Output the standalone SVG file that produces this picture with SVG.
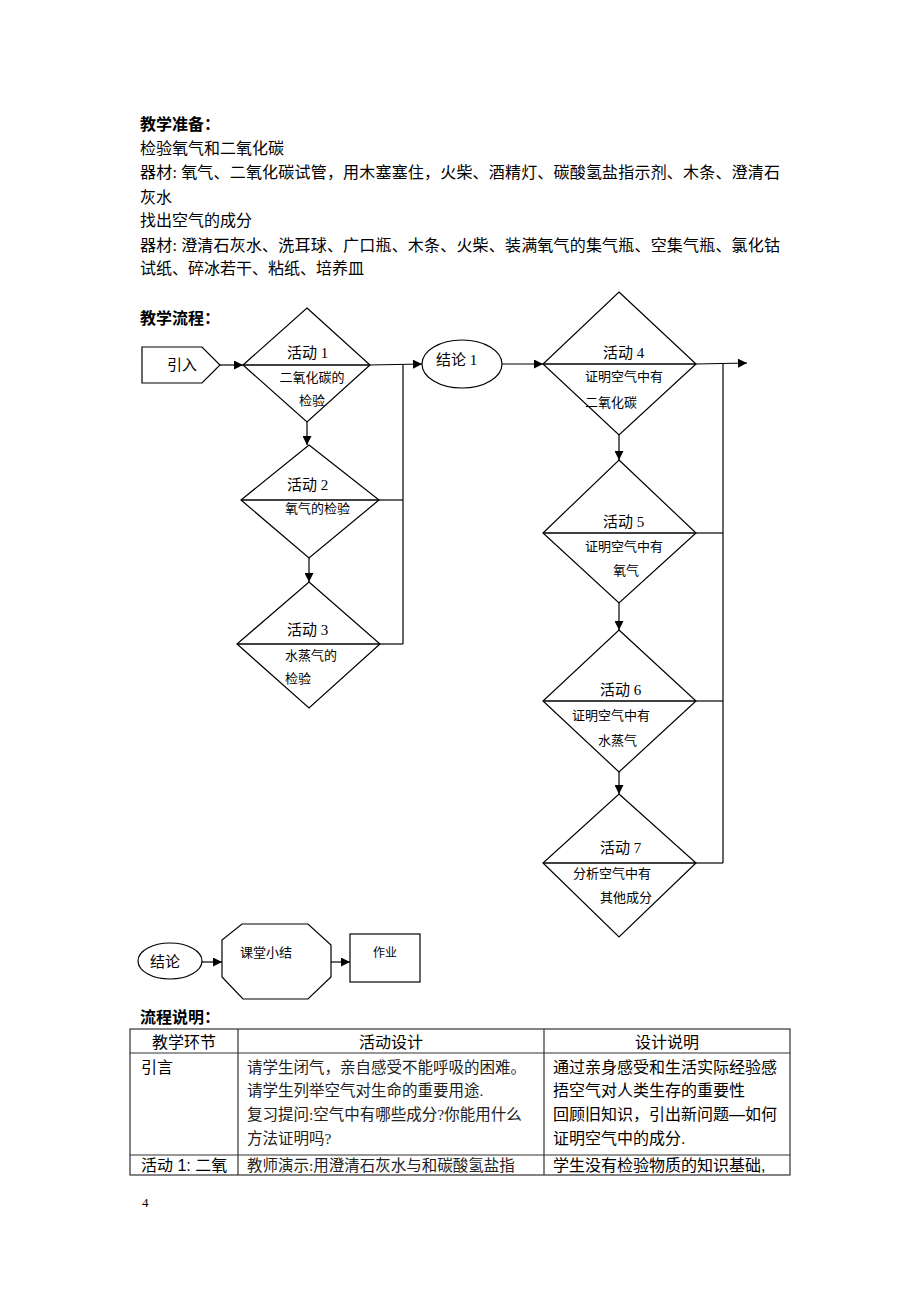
<svg xmlns="http://www.w3.org/2000/svg" width="920" height="1302" viewBox="0 0 920 1302">
<style>
text{font-family:"Liberation Serif","Noto Sans CJK SC",serif;fill:#000}
.h{font-family:"Noto Sans CJK SC",sans-serif;font-size:16px;font-weight:bold}
.b{font-family:"Liberation Serif","Noto Sans CJK SC",serif;font-size:16px}
.t{font-size:15px}
.s{font-size:13px}
.sh{fill:#fff;stroke:#000;stroke-width:1.2}
.dv{stroke:#000;stroke-width:1.4;fill:none}
.c{stroke:#000;stroke-width:1.2;fill:none}
.ca{stroke:#000;stroke-width:1.2;fill:none;marker-end:url(#ah)}
.tb{stroke:#333;stroke-width:1.2;fill:none}
.th{font-family:"Noto Sans CJK SC",sans-serif;font-size:16px}
.tc{font-family:"Liberation Serif","Noto Sans CJK SC",serif;font-size:15.5px;fill:#222}
.ts{font-family:"Liberation Sans","Noto Sans CJK SC",sans-serif;font-size:16px}
</style>
<defs>
<marker id="ah" viewBox="0 0 10 10" refX="10" refY="5" markerUnits="userSpaceOnUse" markerWidth="10" markerHeight="9" orient="auto">
<path d="M0,0 L10,5 L0,10 z" fill="#000"/>
</marker>
</defs>

<g id="intro-text">
<text class="h" x="140" y="130">教学准备：</text>
<text class="b" x="140" y="154">检验氧气和二氧化碳</text>
<text class="b" x="140" y="178" textLength="640" lengthAdjust="spacing">器材: 氧气、二氧化碳试管，用木塞塞住，火柴、酒精灯、碳酸氢盐指示剂、木条、澄清石</text>
<text class="b" x="140" y="203">灰水</text>
<text class="b" x="140" y="226">找出空气的成分</text>
<text class="b" x="140" y="251" textLength="640" lengthAdjust="spacing">器材: 澄清石灰水、洗耳球、广口瓶、木条、火柴、装满氧气的集气瓶、空集气瓶、氯化钴</text>
<text class="b" x="140" y="274">试纸、碎冰若干、粘纸、培养皿</text>
<text class="h" x="140" y="324">教学流程：</text>
</g>

<g id="connectors">
<line class="ca" x1="220" y1="365" x2="243" y2="365"/>
<line class="ca" x1="370" y1="365" x2="422" y2="364"/>
<polyline class="c" points="403,365 403,644"/>
<line class="c" x1="379" y1="500" x2="403" y2="500"/>
<line class="c" x1="380" y1="644" x2="403" y2="644"/>
<line class="ca" x1="307" y1="422" x2="307" y2="445"/>
<line class="ca" x1="309" y1="558" x2="309" y2="582"/>
<line class="ca" x1="502" y1="364" x2="543" y2="364"/>
<line class="ca" x1="696" y1="364" x2="747" y2="363"/>
<polyline class="c" points="723,364 723,863"/>
<line class="c" x1="696" y1="533" x2="723" y2="533"/>
<line class="c" x1="696" y1="701" x2="723" y2="701"/>
<line class="c" x1="696" y1="863" x2="723" y2="863"/>
<line class="ca" x1="619" y1="435" x2="619" y2="460"/>
<line class="ca" x1="619" y1="603" x2="619" y2="630"/>
<line class="ca" x1="619" y1="772" x2="619" y2="794"/>
<line class="ca" x1="202" y1="962" x2="222" y2="962"/>
<line class="ca" x1="331" y1="962" x2="350" y2="962"/>
</g>

<g id="node-yinru">
<polygon class="sh" points="142,347 202,347 220,365 202,383 142,383"/>
<text class="t" x="182" y="370" text-anchor="middle">引入</text>
</g>

<g id="node-act1">
<polygon class="sh" points="307,308 370,365 307,422 243,365"/>
<line class="dv" x1="243" y1="365" x2="370" y2="365"/>
<text class="t" x="287" y="358">活动 1</text>
<text class="s" x="312" y="382" text-anchor="middle">二氧化碳的</text>
<text class="s" x="312" y="405" text-anchor="middle">检验</text>
</g>

<g id="node-act2">
<polygon class="sh" points="309,445 379,500 309,558 241,500"/>
<line class="dv" x1="241" y1="500" x2="379" y2="500"/>
<text class="t" x="287" y="490">活动 2</text>
<text class="s" x="285" y="513">氧气的检验</text>
</g>

<g id="node-act3">
<polygon class="sh" points="309,582 380,644 309,708 237,644"/>
<line class="dv" x1="237" y1="644" x2="380" y2="644"/>
<text class="t" x="287" y="635">活动 3</text>
<text class="s" x="285" y="660">水蒸气的</text>
<text class="s" x="285" y="683">检验</text>
</g>

<g id="node-jielun1">
<ellipse class="sh" cx="462" cy="364" rx="40" ry="24"/>
<text class="t" x="436" y="365">结论 1</text>
</g>

<g id="node-act4">
<polygon class="sh" points="619,292 696,364 619,435 543,364"/>
<line class="dv" x1="543" y1="364" x2="696" y2="364"/>
<text class="t" x="603" y="358">活动 4</text>
<text class="s" x="585" y="381">证明空气中有</text>
<text class="s" x="585" y="407">二氧化碳</text>
</g>

<g id="node-act5">
<polygon class="sh" points="619,460 696,533 619,603 543,533"/>
<line class="dv" x1="543" y1="533" x2="696" y2="533"/>
<text class="t" x="603" y="527">活动 5</text>
<text class="s" x="585" y="551">证明空气中有</text>
<text class="s" x="626" y="575" text-anchor="middle">氧气</text>
</g>

<g id="node-act6">
<polygon class="sh" points="619,630 696,701 619,772 543,701"/>
<line class="dv" x1="543" y1="701" x2="696" y2="701"/>
<text class="t" x="600" y="695">活动 6</text>
<text class="s" x="572" y="720">证明空气中有</text>
<text class="s" x="598" y="745">水蒸气</text>
</g>

<g id="node-act7">
<polygon class="sh" points="619,794 696,863 619,937 543,863"/>
<line class="dv" x1="543" y1="863" x2="696" y2="863"/>
<text class="t" x="600" y="853">活动 7</text>
<text class="s" x="573" y="878">分析空气中有</text>
<text class="s" x="600" y="902">其他成分</text>
</g>

<g id="node-jielun">
<ellipse class="sh" cx="170" cy="961" rx="32" ry="18"/>
<text class="t" x="165" y="967" text-anchor="middle">结论</text>
</g>

<g id="node-xiaojie">
<polygon class="sh" points="242,924 308,924 331,945 331,977 308,999 243,999 222,977 222,940"/>
<text class="s" x="240" y="957">课堂小结</text>
</g>

<g id="node-zuoye">
<rect class="sh" x="350" y="934" width="70" height="48"/>
<text x="385" y="957" font-size="12" text-anchor="middle">作业</text>
</g>

<g id="table">
<text class="h" x="140" y="1023">流程说明：</text>
<rect class="tb" x="130" y="1029" width="660" height="146"/>
<line class="tb" x1="130" y1="1053" x2="790" y2="1053"/>
<line class="tb" x1="130" y1="1155" x2="790" y2="1155"/>
<line class="tb" x1="238" y1="1029" x2="238" y2="1175"/>
<line class="tb" x1="544" y1="1029" x2="544" y2="1175"/>
<text class="th" x="184" y="1048" text-anchor="middle">教学环节</text>
<text class="th" x="391" y="1048" text-anchor="middle">活动设计</text>
<text class="th" x="667" y="1048" text-anchor="middle">设计说明</text>
<text class="ts" x="141" y="1073">引言</text>
<text class="tc" x="247" y="1073">请学生闭气，亲自感受不能呼吸的困难。</text>
<text class="tc" x="247" y="1096">请学生列举空气对生命的重要用途.</text>
<text class="tc" x="247" y="1120">复习提问:空气中有哪些成分?你能用什么</text>
<text class="tc" x="247" y="1144">方法证明吗?</text>
<text class="ts" x="553" y="1073">通过亲身感受和生活实际经验感</text>
<text class="ts" x="553" y="1096">捂空气对人类生存的重要性</text>
<text class="ts" x="553" y="1120">回顾旧知识，引出新问题—如何</text>
<text class="ts" x="553" y="1144">证明空气中的成分.</text>
<text class="ts" x="141" y="1171">活动 1: 二氧</text>
<text class="tc" x="247" y="1171">教师演示:用澄清石灰水与和碳酸氢盐指</text>
<text class="ts" x="553" y="1171">学生没有检验物质的知识基础,</text>
</g>

<text x="142" y="1207" font-size="13">4</text>
</svg>
